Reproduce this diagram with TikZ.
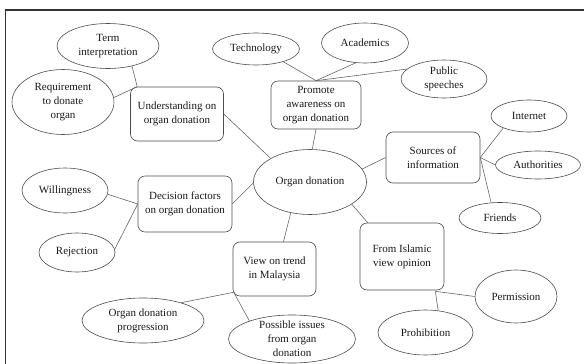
\documentclass[tikz,border=0pt]{standalone}
\usepackage{fontspec}
\setmainfont{Liberation Serif}
\usetikzlibrary{shapes.geometric}
\begin{document}
\begin{tikzpicture}[x=1pt,y=-1pt,
  every node/.style={font=\fontsize{11}{14}\selectfont, align=center, text=black!90},
  oval/.style={ellipse, draw=black!70, line width=0.6pt, inner sep=0pt},
  topic/.style={rectangle, rounded corners=7pt, draw=black!70, line width=0.6pt, inner sep=0pt},
  link/.style={draw=black!60, line width=0.6pt}]
\useasboundingbox (0,0) rectangle (584,364);
\draw[line width=1.6pt, black!80] (5.5,364) -- (5.5,10) -- (584,10);

% centre
\node[oval, minimum width=113pt, minimum height=65pt] (organ) at (310,182) {Organ donation};

% topics
\node[topic, minimum width=93pt, minimum height=54pt] (und) at (177,114) {Understanding on\\organ donation};
\node[topic, minimum width=90pt, minimum height=48pt] (prom) at (316,105) {Promote\\awareness on\\organ donation};
\node[topic, minimum width=94pt, minimum height=51pt] (src) at (433,157.5) {Sources of\\information};
\node[topic, minimum width=94pt, minimum height=56pt] (dec) at (185,204) {Decision factors\\on organ donation};
\node[topic, minimum width=83pt, minimum height=54pt] (view) at (274.5,269) {View on trend\\in Malaysia};
\node[topic, minimum width=84pt, minimum height=67pt] (isl) at (402,256.5) {From Islamic\\view opinion};

% leaves
\node[oval, minimum width=102pt, minimum height=45pt] (term) at (108,46) {Term\\interpretation};
\node[oval, minimum width=102pt, minimum height=65pt] (req) at (63,102) {Requirement\\to donate\\organ};
\node[oval, minimum width=87pt, minimum height=32pt] (tech) at (256,49) {Technology};
\node[oval, minimum width=87pt, minimum height=40pt] (acad) at (365,43) {Academics};
\node[oval, minimum width=86pt, minimum height=38pt] (pub) at (444,79) {Public\\speeches};
\node[oval, minimum width=76pt, minimum height=32pt] (inet) at (529,116) {Internet};
\node[oval, minimum width=85pt, minimum height=28pt] (auth) at (538,165) {Authorities};
\node[oval, minimum width=82pt, minimum height=31pt] (fr) at (500,218) {Friends};
\node[oval, minimum width=86pt, minimum height=45pt] (will) at (65,190.5) {Willingness};
\node[oval, minimum width=76pt, minimum height=39pt] (rej) at (77,252.5) {Rejection};
\node[oval, minimum width=122pt, minimum height=45pt] (prog) at (143,320.5) {Organ donation\\progression};
\node[oval, minimum width=127pt, minimum height=48pt, inner ysep=-6pt] (poss) at (292,339) {Possible issues\\from organ\\donation};
\node[oval, minimum width=82pt, minimum height=53pt] (perm) at (516,296.5) {Permission};
\node[oval, minimum width=95pt, minimum height=45pt] (proh) at (425.5,332.5) {Prohibition};

% centre to topics
\draw[link] (organ.149) -- (und.east);
\draw[link] (organ.86) -- (prom.south);
\draw[link] (organ.14) -- (src.west);
\draw[link] (organ.181) -- (dec.east);
\draw[link] (organ.238) -- ([xshift=9pt]view.north);
\draw[link] (organ.332) -- ([xshift=8pt]isl.north west);

% junctions
\coordinate (uj) at ([xshift=7pt]und.north west);
\coordinate (vj) at ([yshift=4pt,xshift=1pt]view.south west);
\coordinate (ij) at ([xshift=-9pt,yshift=-1pt]isl.south east);

% topics to leaves
\draw[link] (term.-40) -- (uj);
\draw[link] (req.5) -- (uj);
\draw[link] (tech.-25) -- (prom.north);
\draw[link] (acad.-115) -- (prom.north);
\draw[link] (pub.165) -- (prom.north);
\draw[link] (inet.205) -- (src.east);
\draw[link] (auth.west) -- (src.east);
\draw[link] (fr.120) -- (src.east);
\draw[link] (will.-5) -- (dec.west);
\draw[link] (rej.5) -- (dec.west);
\draw[link] (prog.25) -- (vj);
\draw[link] (poss.157) -- (vj);
\draw[link] (perm.west) -- (ij);
\draw[link] (proh.60) -- (ij);
\end{tikzpicture}
\end{document}
